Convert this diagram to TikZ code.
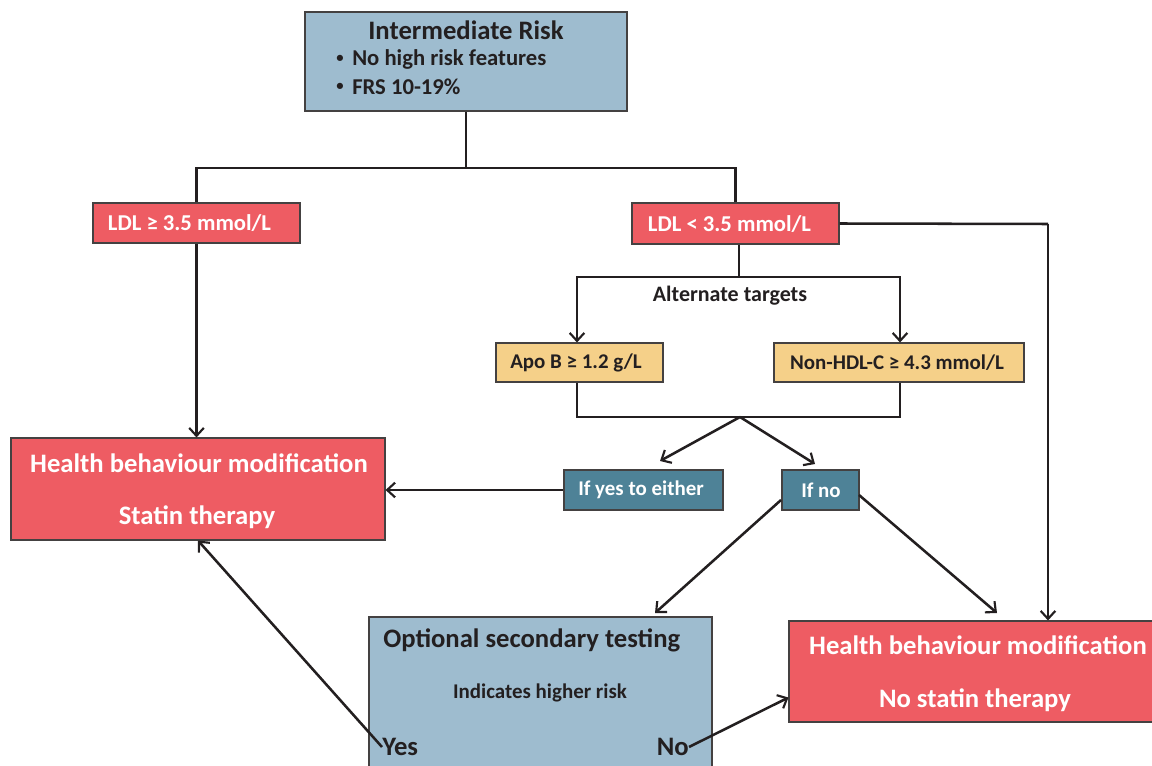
\documentclass[tikz,border=0pt]{standalone}
\usepackage{fontspec}
\setmainfont{Carlito}
\usetikzlibrary{arrows.meta,calc}
\definecolor{lblue}{HTML}{9EBCCF}
\definecolor{rbox}{HTML}{EE5C63}
\definecolor{tbox}{HTML}{F5D089}
\definecolor{teal}{HTML}{4E8297}
\definecolor{ink}{HTML}{231F20}
\tikzset{
  box/.style={draw=ink!85, line width=0.8pt, inner sep=0pt},
  conn/.style={draw=ink, line width=1.9pt, line join=miter},
  arr/.style={conn, -{Straight Barb[length=6pt,width=11pt,line width=1.6pt]}},
  txt/.style={inner sep=0pt, text=ink},
  wtxt/.style={inner sep=0pt, text=white},
  big/.style={font=\fontsize{20}{24}\selectfont\bfseries},
  mid/.style={font=\fontsize{17}{20}\selectfont\bfseries},
  sml/.style={font=\fontsize{15.7}{19}\selectfont\bfseries},
}
\newcommand{\smbul}{\raisebox{0.3pt}{\fontsize{11}{11}\selectfont•}}
\begin{document}
\begin{tikzpicture}[x=0.75pt,y=-0.75pt]
\clip (0,0) rectangle (1152,766);
\fill[white] (0,0) rectangle (1152,766);
% boxes
\node[box, fill=lblue, minimum width=241.5pt, minimum height=74.25pt] (top) at (466,61.5) {};
\node[box, fill=rbox, minimum width=155.25pt, minimum height=30pt] (ldlge) at (196.5,223) {};
\node[box, fill=rbox, minimum width=155.25pt, minimum height=30.75pt] (ldllt) at (735.5,223.5) {};
\node[box, fill=tbox, minimum width=125.25pt, minimum height=29.25pt] (apo) at (579.5,362.5) {};
\node[box, fill=tbox, minimum width=187.5pt, minimum height=29.25pt] (nonhdl) at (899,362.5) {};
\node[box, fill=rbox, minimum width=280.5pt, minimum height=76.5pt] (hbmL) at (198,489) {};
\node[box, fill=teal, minimum width=119.25pt, minimum height=30pt] (ifyes) at (643.5,490) {};
\node[box, fill=teal, minimum width=57.75pt, minimum height=30pt] (ifno) at (820.5,490) {};
\node[box, fill=lblue, minimum width=257.25pt, minimum height=129.75pt] (opt) at (540.5,703.5) {};
\node[box, fill=rbox, minimum width=293.25pt, minimum height=75.75pt] (hbmR) at (984.5,671.5) {};
% texts
\node[txt, big] (t1) at (466,30) {Intermediate Risk};
\node[txt, mid, anchor=east] (bu1) at (344,59) {\smbul};
\node[txt, mid, anchor=east] (bu2) at (344,87) {\smbul};
\node[txt, mid, anchor=west] (b1) at (352,59) {No high risk features};
\node[txt, mid, anchor=west] (b2) at (352,87) {FRS 10-19\%};
\node[wtxt, mid] (l1) at (189.5,223) {LDL ≥ 3.5 mmol/L};
\node[wtxt, mid] (l2) at (729.5,224) {LDL < 3.5 mmol/L};
\node[txt, mid, font=\fontsize{16.5}{20}\selectfont\bfseries] (alt) at (730,296) {Alternate targets};
\node[txt, sml] (at) at (576,363) {Apo B ≥ 1.2 g/L};
\node[txt, sml] (nt) at (897,363) {Non-HDL-C ≥ 4.3 mmol/L};
\node[wtxt, big] (h1) at (199,463) {Health behaviour modification};
\node[wtxt, big] (h2) at (197,517) {Statin therapy};
\node[wtxt, sml] (yt) at (641,490) {If yes to either};
\node[wtxt, sml] (nt2) at (821,490) {If no};
\node[txt, big, anchor=west] (o1) at (383,640) {Optional secondary testing};
\node[txt, sml] (o2) at (540,693) {Indicates higher risk};
\node[txt, big, anchor=west] (yes) at (382,747) {Yes};
\node[txt, big, anchor=east] (no) at (689,747) {No};
\node[wtxt, big] (r1) at (978,645) {Health behaviour modification};
\node[wtxt, big] (r2) at (975,700) {No statin therapy};
% coordinates
\coordinate (j1) at (466,168);
\coordinate (j2) at (739,277);
\coordinate (j3) at (740,417);
\coordinate (dl) at (660,461);
\coordinate (dr) at (815,464);
\coordinate (nl) at (781,500);
\coordinate (nlt) at (655,613);
\coordinate (nr) at (859,495);
\coordinate (nrt) at (997,613);
\coordinate (rc) at (1048,224);
% connectors
\draw[conn] (top.south) -- (j1);
\draw[conn] (ldlge.north) |- (j1) -| (ldllt.north);
\draw[arr] (ldlge.south) -- (ldlge.south |- hbmL.north);
\draw[conn] (ldllt.south -| j2) -- (j2);
\draw[arr] (j2) -| (apo.north -| 577,0);
\draw[arr] (j2) -| (nonhdl.north -| 900,0);
\draw[conn] (apo.south -| 577,0) |- (j3) -| (nonhdl.south -| 900,0);
\draw[arr] (j3) -- (dl);
\draw[arr] (j3) -- (dr);
\draw[arr] (ifyes.west) -- (ifyes.west -| hbmL.east);
\draw[arr] (nl) -- (nlt);
\draw[arr] (nr) -- (nrt);
\draw[conn] (ldllt.east) -- (rc);
\draw[arr] (rc) -- (rc |- hbmR.north);
\draw[arr] (yes.west) -- (hbmL.south);
\draw[arr] (no.east) -- ($(hbmR.west)+(0,26)$);
\end{tikzpicture}
\end{document}
